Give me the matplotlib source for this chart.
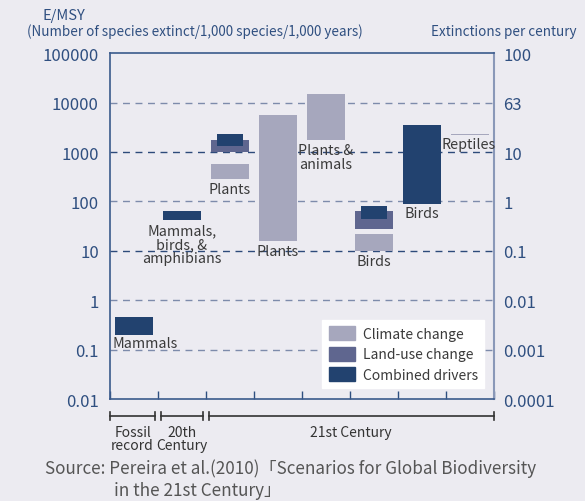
import matplotlib
matplotlib.use("Agg")
import matplotlib.pyplot as plt
from matplotlib.patches import Patch
import numpy as np

plt.rcParams['font.family'] = ['Noto Sans CJK JP', 'DejaVu Sans']

# ---- data ----
climate_slot = [2, 3, 4, 5, 7]
climate_low = [280, 16, 1750, 10, 2180]
climate_high = [560, 5600, 15000, 22, 2300]

landuse_slot = [2, 5]
landuse_low = [1000, 28]
landuse_high = [1750, 63]

combined_slot = [0, 1, 2, 5, 6]
combined_low = [0.2, 42, 1300, 45, 90]
combined_high = [0.45, 63, 2300, 80, 3500]

label_slot = [0, 1, 2, 3, 4, 5, 6, 7]
label_text = ["Mammals", "Mammals,\nbirds, &\namphibians", "Plants", "Plants",
              "Plants &\nanimals", "Birds", "Birds", "Reptiles"]
label_anchor = [0.2, 42, 280, 16, 1750, 10, 90, 2180]

left_ticks = [0.01, 0.1, 1, 10, 100, 1000, 10000, 100000]
left_ticklabels = ["0.01", "0.1", "1", "10", "100", "1000", "10000", "100000"]
right_ticklabels = ["0.0001", "0.001", "0.01", "0.1", "1", "10", "63", "100"]

periods = ["Fossil\nrecord", "20th\nCentury", "21st Century"]
period_start = [0, 1, 2]
period_end = [1, 2, 8]

c_climate = "#a6a7bd"
c_landuse = "#5f668f"
c_combined = "#22426f"
bg = "#ecebf1"
blue_txt = "#2f4f80"
txt = "#3a3a3a"

fig = plt.figure(figsize=(5.85, 5.02), dpi=100, facecolor=bg)
ax = fig.add_axes([0.188, 0.203, 0.656, 0.689], facecolor=bg)
ax.set_yscale('log')
ax.set_ylim(0.01, 100000)
ax.set_xlim(0, 8)

# gridlines
grid_cols = {10000: "#7d8bab", 1000: "#2d4a7a", 100: "#7d8bab", 10: "#2d4a7a",
             1: "#7d8bab", 0.1: "#7d8bab"}
for v, c in grid_cols.items():
    ax.axhline(v, color=c, lw=1.0, ls=(0, (5, 4)), zorder=1)

W = 0.8
NW = 0.54
for s, lo, hi in zip(climate_slot, climate_low, climate_high):
    ax.bar(s + 0.5, hi - lo, bottom=lo, width=W, color=c_climate, zorder=2)
for s, lo, hi in zip(landuse_slot, landuse_low, landuse_high):
    ax.bar(s + 0.5, hi - lo, bottom=lo, width=W, color=c_landuse, zorder=3)
for s, lo, hi in zip(combined_slot, combined_low, combined_high):
    w = NW if s in landuse_slot else W
    ax.bar(s + 0.5, hi - lo, bottom=lo, width=w, color=c_combined, zorder=4)

for s, t, a in zip(label_slot, label_text, label_anchor):
    if s == 0:
        ax.annotate(t, (s + 0.06, a), xytext=(0, -1), textcoords='offset points',
                    ha='left', va='top', fontsize=10.3, color=txt, zorder=5,
                    linespacing=1.0)
    elif s == 7:
        ax.annotate(t, (s + 0.47, a), xytext=(0, -1), textcoords='offset points',
                    ha='center', va='top', fontsize=10.3, color=txt, zorder=5,
                    linespacing=1.0)
    else:
        ax.annotate(t, (s + 0.5, a), xytext=(0, -2), textcoords='offset points',
                    ha='center', va='top', fontsize=10.3, color=txt, zorder=5,
                    linespacing=1.0)

# axes styling
ax.set_yticks(left_ticks)
ax.set_yticklabels(left_ticklabels, fontsize=12, color=blue_txt)
ax.yaxis.set_minor_locator(matplotlib.ticker.NullLocator())
ax.tick_params(axis='y', length=0, pad=8)
ax.set_xticks(np.arange(0, 9))
ax.set_xticklabels([])
ax.tick_params(axis='x', direction='in', length=6, color=blue_txt, width=1)
for sp in ['left', 'top', 'bottom']:
    ax.spines[sp].set_color("#3a5a8c")
    ax.spines[sp].set_linewidth(1.2)
ax.spines['right'].set_color("#8a98b8")
ax.spines['right'].set_linewidth(1.5)

ax2 = ax.twinx()
ax2.set_yscale('log')
ax2.set_ylim(0.01, 100000)
ax2.set_yticks(left_ticks)
ax2.set_yticklabels(right_ticklabels, fontsize=12, color=blue_txt)
ax2.yaxis.set_minor_locator(matplotlib.ticker.NullLocator())
ax2.tick_params(axis='y', length=0, pad=7)
for sp in ax2.spines.values():
    sp.set_visible(False)

# legend
handles = [Patch(color=c_climate, label="Climate change"),
           Patch(color=c_landuse, label="Land-use change"),
           Patch(color=c_combined, label="Combined drivers")]
leg = ax.legend(handles=handles, loc='lower right', bbox_to_anchor=(0.975, 0.032),
                frameon=True, fancybox=False, framealpha=1, edgecolor='white',
                facecolor='white', fontsize=10, handlelength=1.9, handleheight=1.15,
                handletextpad=0.55, labelspacing=0.42, borderpad=0.45,
                borderaxespad=0.0)
for t in leg.get_texts():
    t.set_color(txt)
leg.set_zorder(10)

# titles
fig.text(0.072, 0.968, "E/MSY", fontsize=10.5, color=blue_txt, ha='left', va='center')
fig.text(0.046, 0.937, "(Number of species extinct/1,000 species/1,000 years)",
         fontsize=9.7, color=blue_txt, ha='left', va='center')
fig.text(0.985, 0.937, "Extinctions per century", fontsize=9.7, color=blue_txt,
         ha='right', va='center')

# period brackets
tr = ax.get_xaxis_transform()
gap = 0.06
yb = -0.049
for name, s0, s1 in zip(periods, period_start, period_end):
    x0 = s0 + (0.0 if s0 == 0 else gap)
    x1 = s1 - (gap if s1 < 8 else 0.0)
    ax.plot([x0, x1], [yb, yb], color="#333333", lw=1.2, transform=tr, clip_on=False)
    for xx in (x0, x1):
        ax.plot([xx, xx], [yb - 0.012, yb + 0.012], color="#333333", lw=1.2,
                transform=tr, clip_on=False)
    ax.text((x0 + x1) / 2, yb - 0.025, name, transform=tr, ha='center', va='top',
            fontsize=10, color="#333333", linespacing=0.95)

fig.text(0.077, 0.066, "Source: Pereira et al.(2010)「Scenarios for Global Biodiversity",
         fontsize=12.3, color="#555555", ha='left', va='center')
fig.text(0.195, 0.022, "in the 21st Century」", fontsize=12.3, color="#555555",
         ha='left', va='center')

fig.savefig("out.png", dpi=100, facecolor=bg)
